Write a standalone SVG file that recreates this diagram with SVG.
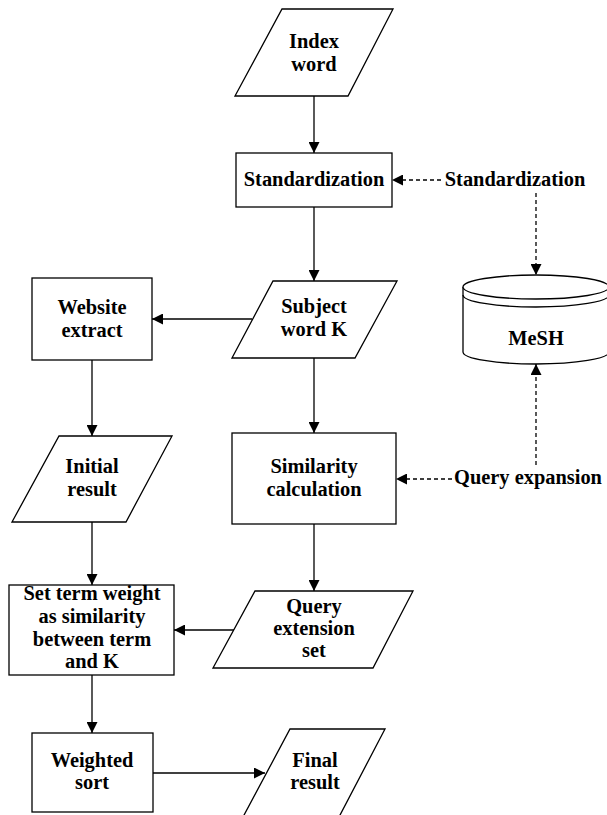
<svg xmlns="http://www.w3.org/2000/svg" width="607" height="815" viewBox="0 0 607 815">
<style>
.s{fill:#fff;stroke:#000;stroke-width:1.3}
.t{font-family:"Liberation Serif","Times New Roman",serif;font-weight:bold;font-size:20.4px;fill:#000;text-anchor:middle}
.c{fill:none;stroke:#000;stroke-width:1.3}
.d{stroke-dasharray:4,3}
</style>
<defs>
<marker id="ah" viewBox="0 0 11 11" refX="11" refY="5.5" markerWidth="11" markerHeight="11" markerUnits="userSpaceOnUse" orient="auto">
<path d="M0,0 L11,5.5 L0,11 z" fill="#000" stroke="none"/>
</marker>
</defs>
<rect width="607" height="815" fill="#fff"/>
<g id="connectors">
<line class="c" x1="314" y1="96" x2="314" y2="153" marker-end="url(#ah)"/>
<line class="c" x1="314" y1="207" x2="314" y2="281" marker-end="url(#ah)"/>
<line class="c" x1="252" y1="319" x2="152" y2="319" marker-end="url(#ah)"/>
<line class="c" x1="314" y1="358" x2="314" y2="433" marker-end="url(#ah)"/>
<line class="c" x1="92" y1="360" x2="92" y2="436" marker-end="url(#ah)"/>
<line class="c" x1="314" y1="524" x2="314" y2="591" marker-end="url(#ah)"/>
<line class="c" x1="234" y1="630" x2="174" y2="630" marker-end="url(#ah)"/>
<line class="c" x1="92" y1="522" x2="92" y2="585" marker-end="url(#ah)"/>
<line class="c" x1="92" y1="675" x2="92" y2="733" marker-end="url(#ah)"/>
<line class="c" x1="153" y1="773" x2="265" y2="773" marker-end="url(#ah)"/>
<line class="c d" x1="441" y1="180" x2="392" y2="180" marker-end="url(#ah)"/>
<line class="c d" x1="536" y1="193" x2="536" y2="275" marker-end="url(#ah)"/>
<line class="c d" x1="452" y1="479" x2="396" y2="479" marker-end="url(#ah)"/>
<line class="c d" x1="536" y1="465" x2="536" y2="364" marker-end="url(#ah)"/>
</g>
<g id="index-word">
<polygon class="s" points="282,9 393,9 348,96 235,96"/>
<text class="t" x="314" y="48">Index</text>
<text class="t" x="314" y="71">word</text>
</g>
<g id="standardization">
<rect class="s" x="236" y="153" width="156" height="54"/>
<text class="t" x="314" y="186">Standardization</text>
</g>
<g id="standardization-label">
<text class="t" x="515" y="186">Standardization</text>
</g>
<g id="mesh">
<path class="s" d="M463,287 L463,352 A73,12 0 0 0 609,352 L609,287"/>
<ellipse class="s" cx="536" cy="287" rx="73" ry="12"/>
<path class="c" d="M463,295 A73,12 0 0 0 609,295"/>
<text class="t" x="536" y="345">MeSH</text>
</g>
<g id="subject-word">
<polygon class="s" points="273,281 397,281 355,358 232,358"/>
<text class="t" x="314" y="313">Subject</text>
<text class="t" x="314" y="336">word K</text>
</g>
<g id="website-extract">
<rect class="s" x="32" y="278" width="120" height="82"/>
<text class="t" x="92" y="314">Website</text>
<text class="t" x="92" y="337">extract</text>
</g>
<g id="initial-result">
<polygon class="s" points="59,436 172,436 126,522 12,522"/>
<text class="t" x="92" y="473">Initial</text>
<text class="t" x="92" y="496">result</text>
</g>
<g id="similarity">
<rect class="s" x="232" y="433" width="164" height="91"/>
<text class="t" x="314" y="473">Similarity</text>
<text class="t" x="314" y="496">calculation</text>
</g>
<g id="query-expansion-label">
<text class="t" x="528" y="484">Query expansion</text>
</g>
<g id="query-extension-set">
<polygon class="s" points="255,591 413,591 373,668 213,668"/>
<text class="t" x="314" y="613">Query</text>
<text class="t" x="314" y="635">extension</text>
<text class="t" x="314" y="657">set</text>
</g>
<g id="set-term-weight">
<rect class="s" x="9" y="585" width="165" height="90"/>
<text class="t" x="92" y="600">Set term weight</text>
<text class="t" x="92" y="623">as similarity</text>
<text class="t" x="92" y="646">between term</text>
<text class="t" x="92" y="668">and K</text>
</g>
<g id="weighted-sort">
<rect class="s" x="32" y="733" width="121" height="79"/>
<text class="t" x="92" y="767">Weighted</text>
<text class="t" x="92" y="789">sort</text>
</g>
<g id="final-result">
<polygon class="s" points="290,729 385,729 339,817 243,817"/>
<text class="t" x="315" y="767">Final</text>
<text class="t" x="315" y="789">result</text>
</g>
</svg>
